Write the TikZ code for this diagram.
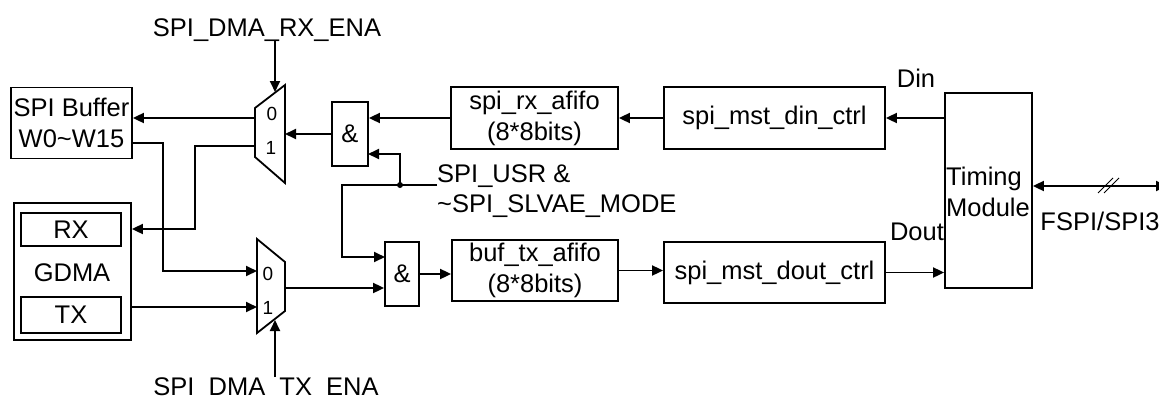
\documentclass[tikz,border=0pt]{standalone}
\usepackage{fontspec}
\setmainfont{Liberation Sans}
\usetikzlibrary{arrows.meta}
\newcommand\lblfont{\fontsize{25.5}{31}\selectfont}
\newcommand\selfont{\fontsize{19}{22}\selectfont}
\tikzset{
  box/.style={draw, line width=1.8pt, inner sep=0pt, align=center, font=\lblfont},
  lbl/.style={inner sep=0pt, font=\lblfont},
  sel/.style={inner sep=0pt, font=\selfont},
  wire/.style={line width=1.8pt},
  conn/.style={line width=1.8pt, -{Triangle[length=11pt,width=10pt]}},
  biconn/.style={line width=1.8pt, {Triangle[length=11pt,width=10pt]}-{Triangle[length=11pt,width=10pt]}},
  muxshape/.style={draw, line width=1.8pt, line join=miter},
}
\begin{document}
\begin{tikzpicture}[x=1pt, y=-1pt]
\useasboundingbox (0,0) rectangle (1159,397);

% blocks
\node[box, minimum width=121pt, minimum height=71pt] (buf) at (71.5,123) {SPI Buffer\\W0\textasciitilde W15};
\node[box, minimum width=117pt, minimum height=137pt] (gdma) at (72.5,271.5) {};
\node[box, minimum width=100pt, minimum height=33pt] (rx) at (71,229.5) {RX};
\node[box, minimum width=100pt, minimum height=36pt] (tx) at (71,315) {TX};
\node[lbl] (gdmat) at (72,273) {GDMA};

\node[box, minimum width=36pt, minimum height=64pt] (and1) at (350,134) {\&};
\node[box, minimum width=34pt, minimum height=64pt] (and2) at (402,274) {\&};

\node[box, minimum width=167pt, minimum height=62pt] (rxf) at (534.5,118) {spi\_rx\_afifo\\(8*8bits)};
\node[box, minimum width=166pt, minimum height=61pt] (txf) at (535,270.5) {buf\_tx\_afifo\\(8*8bits)};
\node[box, minimum width=221pt, minimum height=62pt] (dinc) at (774.5,118) {spi\_mst\_din\_ctrl};
\node[box, minimum width=221pt, minimum height=61pt] (doutc) at (774.5,272.5) {spi\_mst\_dout\_ctrl};
\node[box, minimum width=87pt, minimum height=195pt] (tm) at (988.5,190.5) {};
\node[lbl, anchor=west, align=left] (tmt) at (946,192) {Timing\\Module};

% muxes
\draw[muxshape] (255,108) -- (285,85) -- (285,183) -- (255,157) -- cycle;
\coordinate (m1out0) at (255,118);
\coordinate (m1out1) at (255,146);
\coordinate (m1in) at (285,134);
\coordinate (m1sel) at (275,92);
\node[sel] (m1l0) at (272,114) {0};
\node[sel] (m1l1) at (271,148) {1};

\draw[muxshape] (257,239) -- (285,262) -- (285,311) -- (257,333) -- cycle;
\coordinate (m2in0) at (257,271);
\coordinate (m2in1) at (257,307);
\coordinate (m2out) at (285,288);
\coordinate (m2sel) at (275,320);
\node[sel] (m2l0) at (268,274) {0};
\node[sel] (m2l1) at (268,308) {1};

% labels
\node[lbl, anchor=base] (rxena) at (267,36) {SPI\_DMA\_RX\_ENA};
\node[lbl, anchor=base] (txena) at (266,395) {SPI\_DMA\_TX\_ENA};
\node[lbl, anchor=base west] (usr1) at (437,182) {SPI\_USR \&};
\node[lbl, anchor=base west] (usr2) at (437,212) {\textasciitilde SPI\_SLVAE\_MODE};
\node[lbl] (din) at (916,78) {Din};
\node[lbl] (dout) at (917,232) {Dout};
\node[lbl] (fspi) at (1100,221) {FSPI/SPI3};

% helper coordinates
\coordinate (j1) at (195,229);
\coordinate (jd) at (400,185);
\coordinate (jl) at (342,185);
\coordinate (usrin) at (437,185);
\coordinate (a1in2) at (368,154);
\coordinate (a2in1) at (385,257);
\coordinate (m2jog) at (163,271);
\coordinate (fsend) at (1167,186);

% connectors
\draw[conn] (rxena.south -| m1sel) -- (m1sel);
\draw[conn] (m1out0) -- (m1out0 -| buf.east);
\draw[conn] (m1out1) -| (j1) -- (j1 -| gdma.east);
\draw[conn] (and1.west) -- (m1in);
\draw[conn] (rxf.west) -- (rxf.west -| and1.east);
\draw[conn] (dinc.west) -- (rxf.east);
\draw[conn] (tm.west |- dinc.east) -- (dinc.east);
\draw[conn] (doutc.east) -- (doutc.east -| tm.west);
\draw[conn] (txf.east) -- (txf.east -| doutc.west);
\draw[conn] (and2.east) -- (and2.east -| txf.west);
\draw[conn] (m2out) -- (m2out -| and2.west);
\draw[wire] (usrin) -- (jd);
\draw[conn] (jd) |- (a1in2);
\draw[conn] (jd) -- (jl) |- (a2in1);
\fill (jd) circle (3);
\draw[conn] ([yshift=-20pt]buf.east) -| (m2jog) -- (m2in0);
\draw[conn] (m2in1 -| gdma.east) -- (m2in1);
\draw[conn] (txena.north -| m2sel) -- (m2sel);
\draw[biconn] (tm.east |- fsend) -- (fsend);
\draw[line width=1pt] (1098,193) -- (1113,178);
\draw[line width=1pt] (1104,193) -- (1119,178);
\end{tikzpicture}
\end{document}
